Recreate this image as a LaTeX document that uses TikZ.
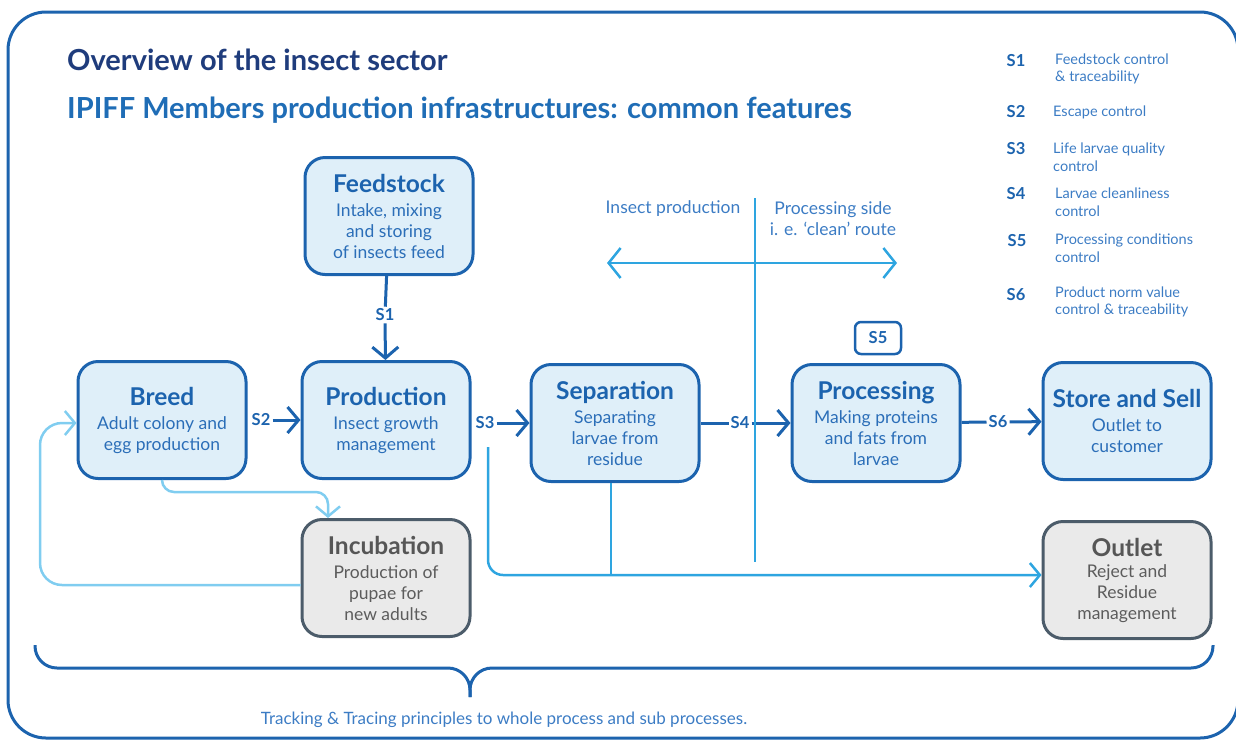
\documentclass[tikz,border=0pt]{standalone}
\usepackage{fontspec}
\setmainfont{Lato}
\usetikzlibrary{arrows.meta}

\definecolor{navy}{HTML}{1F3C7C}
\definecolor{ipblue}{HTML}{1F6DB6}
\definecolor{boxline}{HTML}{1C63AE}
\definecolor{boxfill}{HTML}{DFEFF9}
\definecolor{boxtext}{HTML}{2B6EB8}
\definecolor{legtext}{HTML}{3C7CC4}
\definecolor{lightline}{HTML}{2EA5E0}
\definecolor{skyline}{HTML}{80CDF0}
\definecolor{greyfill}{HTML}{EAEAEA}
\definecolor{greyline}{HTML}{4C5C6A}
\definecolor{greytext}{HTML}{5C5C5C}
\definecolor{greyhead}{HTML}{565656}

\begin{document}
\begin{tikzpicture}[x=1pt,y=-1pt,
    stage/.style={rectangle,rounded corners=20pt,draw=boxline,line width=3pt,fill=boxfill,minimum width=168pt,minimum height=117pt,inner sep=0pt,align=center,text=boxtext,font=\fontsize{17.5}{21}\selectfont},
    outlet/.style={stage,draw=greyline,fill=greyfill,text=greytext},
    tag/.style={inner sep=2pt,text=boxline,font=\fontsize{16.5}{20}\selectfont\bfseries},
    legend/.style={anchor=west,inner sep=0pt,align=left,text=legtext,font=\fontsize{14.5}{17.5}\selectfont},
    flow/.style={draw=boxline,line width=3pt},
    arr/.style={flow,-{Straight Barb[length=11pt,width=26pt]}},
    light/.style={draw=lightline,line width=2.5pt},
    lightarr/.style={light,-{Straight Barb[length=10pt,width=24pt]}},
    sky/.style={draw=skyline,line width=2.5pt,-{Straight Barb[length=10pt,width=24pt]}}]

    \useasboundingbox (0,0) rectangle (1236,740);
    \draw[boxline,line width=3pt,rounded corners=38pt] (8,12) rectangle (1238,738);

    % titles
    \node[anchor=west,inner sep=0pt,text=navy,font=\fontsize{29}{34}\selectfont\bfseries] (title) at (67,60) {Overview of the insect sector};
    \node[anchor=west,inner sep=0pt,text=ipblue,font=\fontsize{29}{34}\selectfont\bfseries] (subtitle) at (67,110) {IPIFF Members production infrastructures: common features};

    % legend
    \node[tag] (l1) at (1016,61) {S1};
    \node[legend] (t1) at (1055,69) {Feedstock control\\\& traceability};
    \node[tag] (l2) at (1016,112) {S2};
    \node[legend] (t2) at (1053,112) {Escape control};
    \node[tag] (l3) at (1016,149) {S3};
    \node[legend] (t3) at (1053,157) {Life larvae quality\\control};
    \node[tag] (l4) at (1016,194) {S4};
    \node[legend] (t4) at (1055,202) {Larvae cleanliness\\control};
    \node[tag] (l5) at (1017,241) {S5};
    \node[legend] (t5) at (1055,248) {Processing conditions\\control};
    \node[tag] (l6) at (1016,295) {S6};
    \node[legend] (t6) at (1055,302) {Product norm value\\control \& traceability};

    % stages
    \node[stage] (feed) at (389,216) {{\color{boxline}\fontsize{24.5}{28}\selectfont\bfseries Feedstock}\\[3pt]Intake, mixing\\and storing\\of insects feed};
    \node[stage] (breed) at (162,420) {{\color{boxline}\fontsize{24.5}{28}\selectfont\bfseries Breed}\\[3pt]Adult colony and\\egg production};
    \node[stage] (prod) at (386,420) {{\color{boxline}\fontsize{24.5}{28}\selectfont\bfseries Production}\\[3pt]Insect growth\\management};
    \node[stage] (sep) at (615,423) {{\color{boxline}\fontsize{24.5}{28}\selectfont\bfseries Separation}\\[3pt]Separating\\larvae from\\residue};
    \node[stage] (proc) at (876,423) {{\color{boxline}\fontsize{24.5}{28}\selectfont\bfseries Processing}\\[3pt]Making proteins\\and fats from\\larvae};
    \node[stage] (store) at (1127,421) {{\color{boxline}\fontsize{24.5}{28}\selectfont\bfseries Store and Sell}\\[3pt]Outlet to\\customer};
    \node[outlet] (incub) at (386,578) {{\color{greyhead}\fontsize{24.5}{28}\selectfont\bfseries Incubation}\\[3pt]Production of\\pupae for\\new adults};
    \node[outlet] (out) at (1127,580) {{\color{greyhead}\fontsize{24.5}{28}\selectfont\bfseries Outlet}\\Reject and\\Residue\\management};
    \node[tag,draw=boxline,line width=2.5pt,rounded corners=6pt,minimum width=46pt,minimum height=32pt] (s5) at (878,338) {S5};

    % control points
    \node[tag] (s1) at (385,315) {S1};
    \node[tag] (s2) at (261,420) {S2};
    \node[tag] (s3) at (485,423) {S3};
    \node[tag] (s4) at (740,423) {S4};
    \node[tag] (s6) at (998,422) {S6};

    \draw[flow] (feed) -- (s1);
    \draw[arr] (s1) -- (prod);
    \draw[arr] (s2) -- (prod);
    \draw[arr] (s3) -- (sep);
    \draw[flow] (sep) -- (s4);
    \draw[arr] (s4) -- (proc);
    \draw[flow] (proc) -- (s6);
    \draw[arr] (s6) -- (store);

    % insect production / processing side
    \coordinate (divtop) at (755,198);
    \coordinate (divbot) at (755,562);
    \coordinate (leftend) at (607,263);
    \coordinate (rightend) at (897,263);
    \draw[light] (divtop) -- (divbot);
    \draw[light,{Straight Barb[length=12pt,width=30pt]}-{Straight Barb[length=12pt,width=30pt]}] (leftend) -- (rightend);
    \node[text=legtext,font=\fontsize{17.5}{21}\selectfont] (insect) at (673,209) {Insect production};
    \node[text=legtext,align=center,font=\fontsize{17.5}{21}\selectfont] (clean) at (833,219) {Processing side\\i. e. ‘clean’ route};

    % residue route
    \coordinate (s3drop) at (488,447);
    \coordinate (join) at (611,575);
    \draw[lightarr,rounded corners=15pt] (s3drop) |- ([yshift=5pt]out.west);
    \draw[light] (sep.south -| join) -- (join);

    % breeding loop
    \coordinate (loopc) at (40,423);
    \draw[sky,rounded corners=22pt] ([yshift=-7pt]incub.west) -| (loopc) -- (breed.west |- loopc);
    \draw[sky,rounded corners=12pt] (breed.south) -- ++(0,12) -| ([xshift=-58pt]incub.north);

    % tracking brace
    \draw[boxline,line width=3pt,rounded corners=22pt] (35,645) |- (470,668) -- (470,697);
    \draw[boxline,line width=3pt,rounded corners=22pt] (1213,645) |- (470,668) -- (470,697);
    \node[text=legtext,font=\fontsize{17}{20}\selectfont] (track) at (504,720) {Tracking \& Tracing principles to whole process and sub processes.};
\end{tikzpicture}
\end{document}
